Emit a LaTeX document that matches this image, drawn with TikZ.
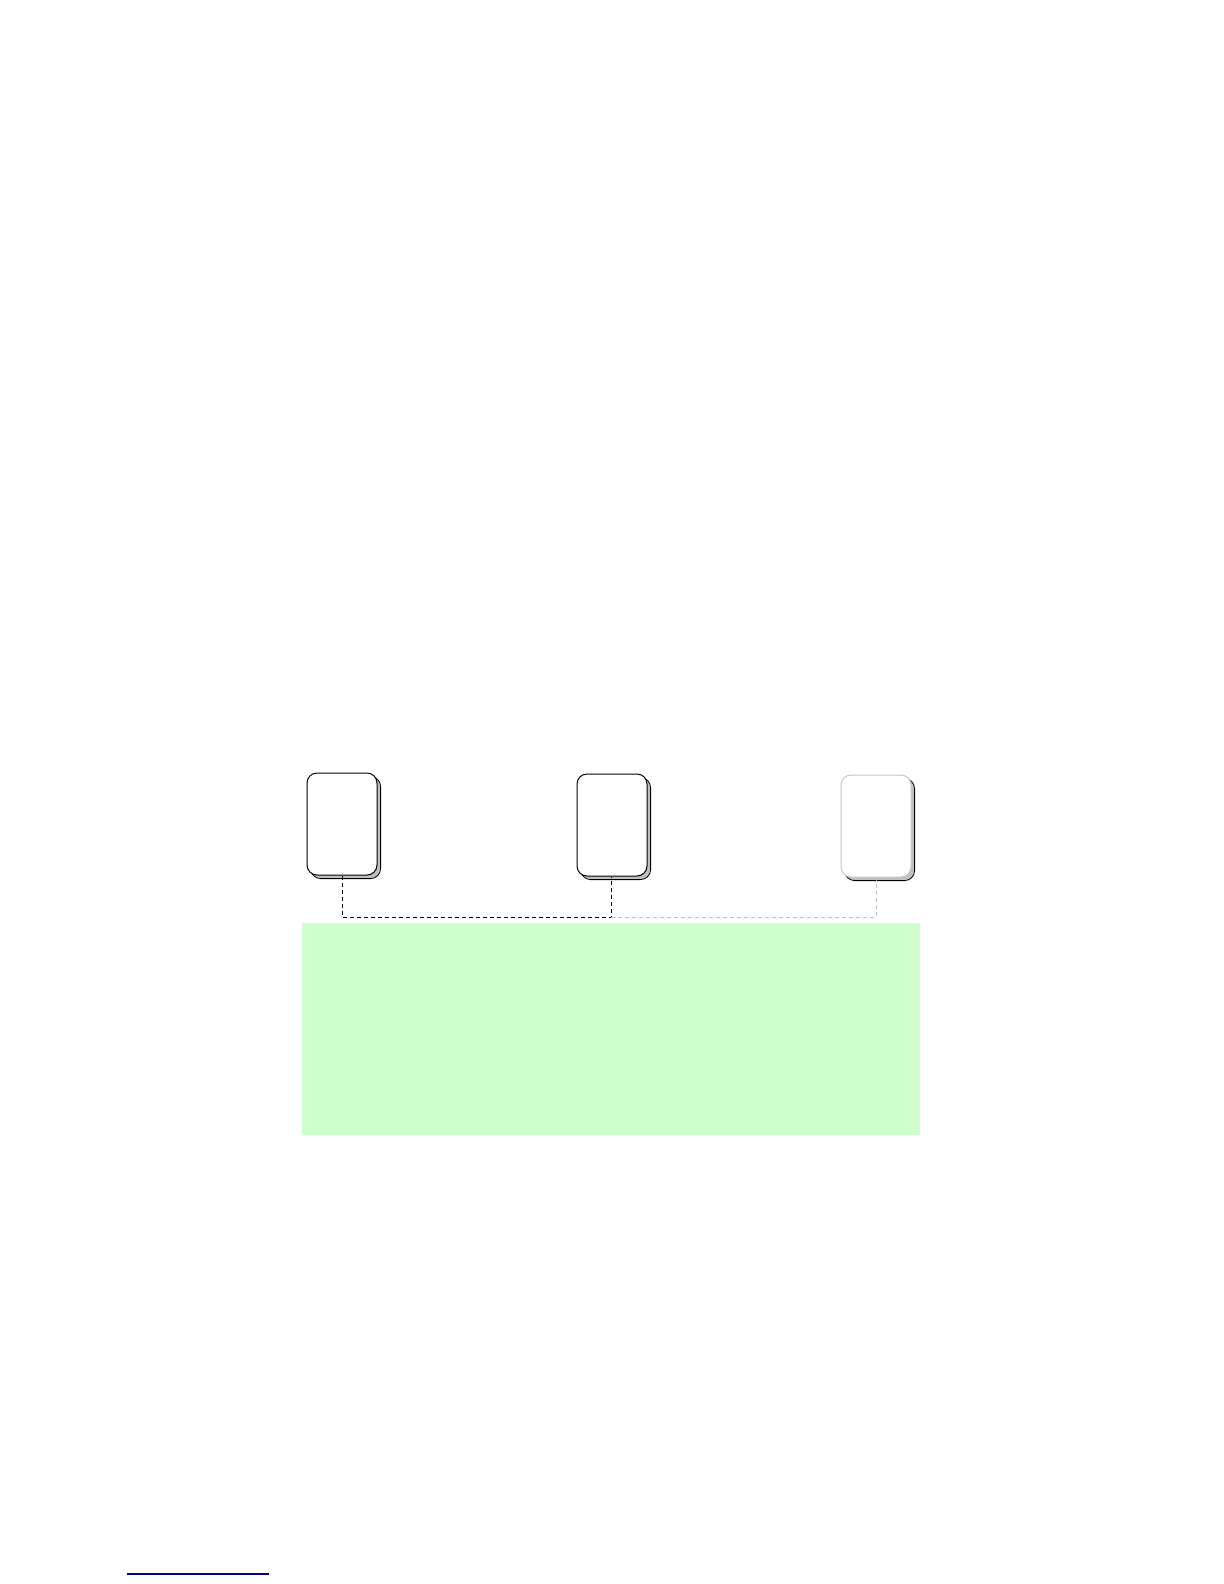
\documentclass[tikz,border=0pt]{standalone}
\usepackage{tikz}
\usetikzlibrary{shadows,positioning}
\definecolor{panelgreen}{RGB}{204,255,204}
\definecolor{rulenavy}{RGB}{0,0,128}

\tikzset{
  unit/.style={draw, rounded corners=5pt, fill=white, minimum width=35pt, minimum height=51pt, line width=0.5pt,
    drop shadow={shadow xshift=1.8pt, shadow yshift=-1.8pt, opacity=1, fill=gray!50, draw=black, line width=0.4pt}},
  link/.style={dashed, dash pattern=on 2pt off 1.5pt, line width=0.4pt}
}

\begin{document}
\begin{tikzpicture}[x=0.5pt, y=-0.5pt]
\useasboundingbox (0,0) rectangle (1224,1584);
\node[unit](unitA) at (342,824){};
\node[unit](unitB) at (612,825){};
\node[unit, draw=gray!45](unitC) at (876,826){};
%links
\coordinate (bus) at (611,917);
\path[draw, link](unitA.south)|-(bus)--(bus |- unitB.south);
\path[draw, link, gray!50](bus)-|(unitC.south);
%panel
\node[fill=panelgreen, minimum width=309pt, minimum height=106pt, inner sep=0pt, anchor=north west](panel) at (302,923){};
%footnote rule
\coordinate (ruleL) at (127,1574);
\coordinate (ruleR) at (269,1574);
\path[draw, line width=0.75pt, rulenavy](ruleL)--(ruleR);
\end{tikzpicture}
\end{document}
